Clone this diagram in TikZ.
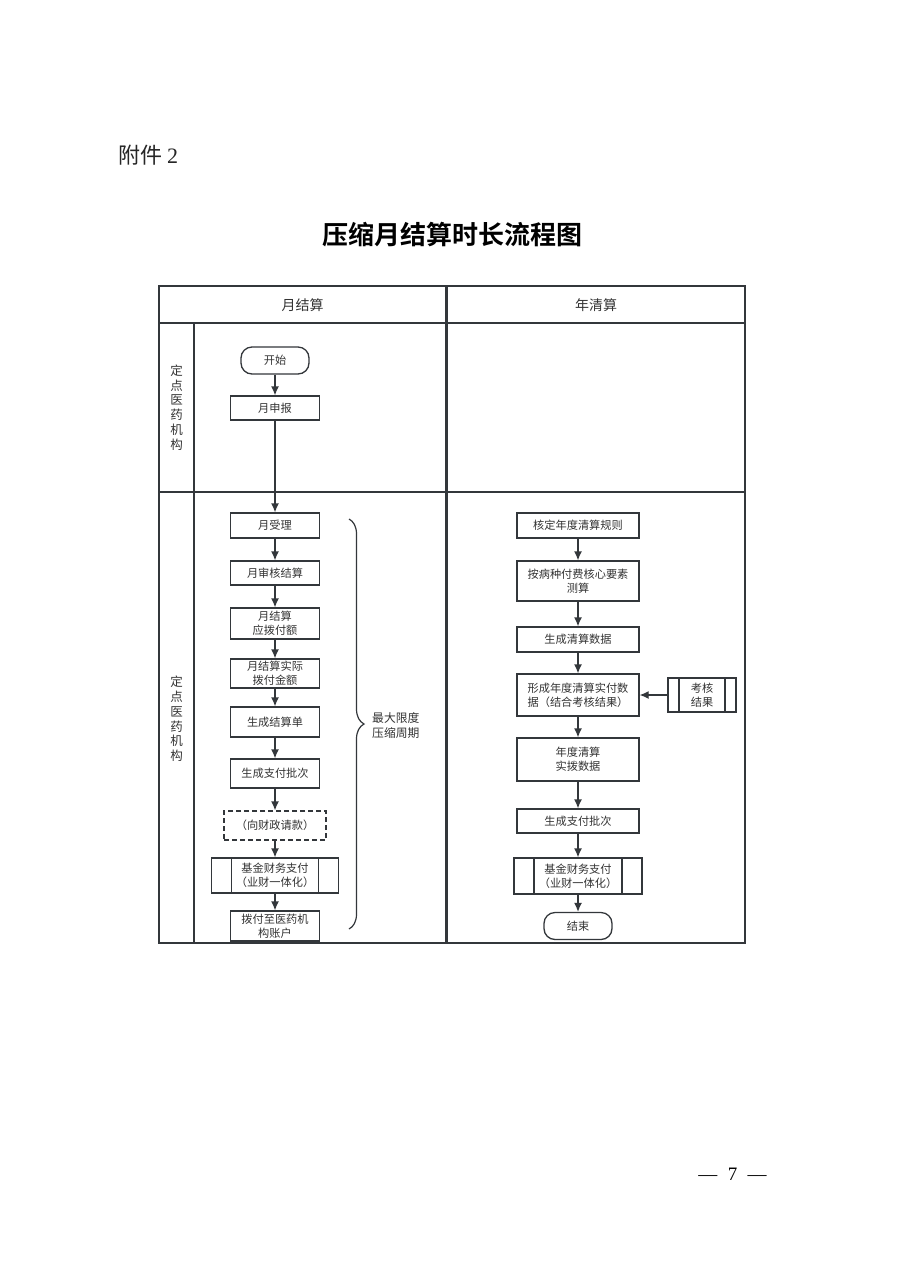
\documentclass[tikz,border=0pt]{standalone}
\usepackage{fontspec}
\setmainfont{Liberation Serif}
\newfontfamily\cjk{Noto Sans CJK SC}[BoldFont={Noto Sans CJK SC Bold}]
\usetikzlibrary{arrows.meta,decorations.pathreplacing}
\definecolor{linegray}{HTML}{33373B}

\begin{document}
\begin{tikzpicture}[x=1pt,y=-1pt,
    box/.style={draw=linegray,line width=1.3pt,rectangle,align=center,inner sep=1pt,text=black!80,font=\cjk\fontsize{11.2}{14}\selectfont},
    termbox/.style={box,rounded corners=11pt,minimum width=68pt,minimum height=27pt},
    subbox/.style={box,path picture={\draw[linegray,line width=1.3pt] ([xshift=#1]path picture bounding box.north west) -- ([xshift=#1]path picture bounding box.south west) ([xshift=-#1]path picture bounding box.north east) -- ([xshift=-#1]path picture bounding box.south east);}},
    flow/.style={draw=linegray,line width=1.3pt,-{Latex[length=9pt,width=8pt]}},
    tabline/.style={draw=linegray,line width=1.6pt},
    lanelabel/.style={align=center,text=black!80,font=\cjk\fontsize{12.5}{14.8}\selectfont}]
  \useasboundingbox[fill=white] (0,0) rectangle (902,1262);
  % heading
  \node[anchor=west,inner sep=0,font=\cjk\fontsize{22}{24}\selectfont,text=black!85] (annex) at (118,155) {附件 {\rmfamily 2}};
  \node[font=\cjk\bfseries\fontsize{26}{28}\selectfont] (title) at (452.5,235) {压缩月结算时长流程图};
  % table
  \draw[tabline] (159,286) rectangle (745,943);
  \draw[tabline] (159,323) -- (745,323);
  \draw[tabline] (159,492) -- (745,492);
  \draw[tabline,line width=2.6pt] (159,492) -- (194,492);
  \draw[tabline] (194,323) -- (194,943);
  \draw[tabline,line width=2.6pt] (446.5,286) -- (446.5,943);
  \node[font=\cjk\fontsize{14}{16}\selectfont,text=black!80] (hdrmonth) at (302.5,305) {月结算};
  \node[font=\cjk\fontsize{14}{16}\selectfont,text=black!80] (hdryear) at (596,305) {年清算};
  \node[lanelabel] (lanetop) at (176.5,407.5) {定\\点\\医\\药\\机\\构};
  \node[lanelabel] (lanebot) at (176.5,719) {定\\点\\医\\药\\机\\构};
  % monthly column
  \node[termbox] (start) at (275,360.5) {开始};
  \node[box,minimum width=89pt,minimum height=24pt] (shenbao) at (275,408) {月申报};
  \node[box,minimum width=89pt,minimum height=25pt] (shouli) at (275,525.5) {月受理};
  \node[box,minimum width=89pt,minimum height=24pt] (shenhe) at (275,573) {月审核结算};
  \node[box,minimum width=89pt,minimum height=31pt] (yingbo) at (275,623.5) {月结算\\应拨付额};
  \node[box,minimum width=89pt,minimum height=29pt] (shiji) at (275,673.5) {月结算实际\\拨付金额};
  \node[box,minimum width=89pt,minimum height=30pt] (jsd) at (275,722) {生成结算单};
  \node[box,minimum width=89pt,minimum height=29pt] (pici) at (275,773.5) {生成支付批次};
  \node[box,dashed,dash pattern=on 5pt off 3pt,minimum width=102pt,minimum height=29pt] (qingkuan) at (275,825.5) {（向财政请款）};
  \node[subbox=20pt,minimum width=127pt,minimum height=35pt] (zhifu) at (275,875.5) {基金财务支付\\（业财一体化）};
  \node[box,minimum width=89pt,minimum height=30pt] (bofu) at (275,926) {拨付至医药机\\构账户};
  % yearly column
  \node[box,minimum width=122pt,minimum height=25pt] (guize) at (578,525.5) {核定年度清算规则};
  \node[box,minimum width=122pt,minimum height=40pt] (cesuan) at (578,581) {按病种付费核心要素\\测算};
  \node[box,minimum width=122pt,minimum height=25pt] (shuju) at (578,639.5) {生成清算数据};
  \node[box,minimum width=122pt,minimum height=42pt] (shifu) at (578,695) {形成年度清算实付数\\据（结合考核结果）};
  \node[subbox=11pt,minimum width=68pt,minimum height=34pt] (kaohe) at (702,695) {考核\\结果};
  \node[box,minimum width=122pt,minimum height=43pt] (shibo) at (578,759.5) {年度清算\\实拨数据};
  \node[box,minimum width=122pt,minimum height=24pt] (pici2) at (578,821) {生成支付批次};
  \node[subbox=20pt,minimum width=128pt,minimum height=36pt] (zhifu2) at (578,876) {基金财务支付\\（业财一体化）};
  \node[termbox] (finish) at (578,926) {结束};
  % arrows
  \foreach \a/\b in {start/shenbao,shenbao/shouli,shouli/shenhe,shenhe/yingbo,yingbo/shiji,shiji/jsd,jsd/pici,pici/qingkuan,qingkuan/zhifu,zhifu/bofu,guize/cesuan,cesuan/shuju,shuju/shifu,shifu/shibo,shibo/pici2,pici2/zhifu2,zhifu2/finish}
    \draw[flow] (\a.south) -- (\b.north);
  \draw[flow] (kaohe.west) -- (shifu.east);
  % brace
  \draw[linegray,line width=1.2pt,decorate,decoration={brace,amplitude=15pt}] (349,519) -- (349,929);
  \node[anchor=west,align=left,inner sep=0,text=black!80,font=\cjk\fontsize{11.8}{15}\selectfont] (cycle) at (372,725.5) {最大限度\\压缩周期};
  % page number
  \node[font=\rmfamily\fontsize{19}{20}\selectfont] (pageno) at (732.5,1174) {—\hspace{0.55em}7\hspace{0.55em}—};
\end{tikzpicture}
\end{document}
